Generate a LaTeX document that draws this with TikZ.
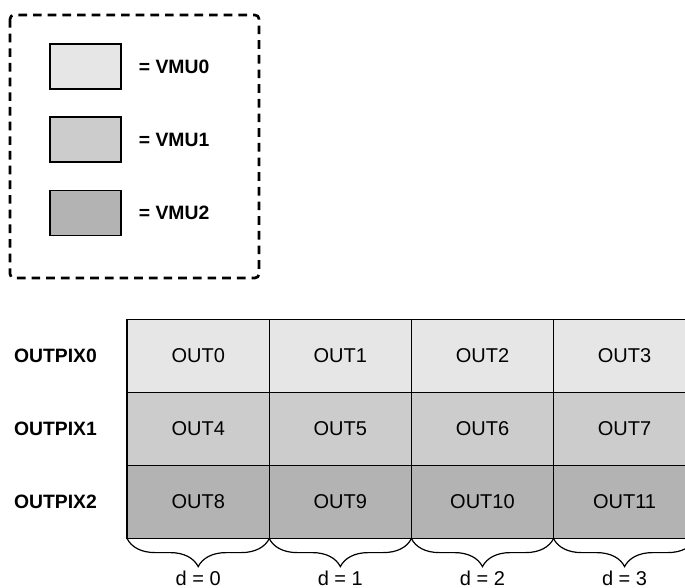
\documentclass[tikz,border=0pt]{standalone}
\usepackage{fontspec}
\setmainfont{Liberation Sans}
\usepackage{xcolor}
\usetikzlibrary{positioning,decorations.pathreplacing}
\definecolor{vmuA}{HTML}{E6E6E6}
\definecolor{vmuB}{HTML}{CCCCCC}
\definecolor{vmuC}{HTML}{B3B3B3}

\begin{document}
\begin{tikzpicture}[x=0.75pt, y=-0.75pt, node distance=0pt,
    cell/.style = {shape=rectangle, draw, line width=1pt, outer sep=0pt,
      inner sep=0pt, minimum width=106.6pt, minimum height=54.75pt,
      font=\fontsize{15}{18}\selectfont},
    swatch/.style = {shape=rectangle, draw, line width=1pt, inner sep=0pt,
      minimum width=53.25pt, minimum height=33.75pt},
    lbl/.style = {inner sep=0pt, font=\fontsize{14.5}{17}\selectfont\bfseries},
    dlabel/.style = {inner sep=0pt, anchor=base, font=\fontsize{15}{18}\selectfont},
    brc/.style = {decorate, line width=0.9pt,
      decoration={brace, mirror, amplitude=21pt}}]
    \useasboundingbox (0,0) rectangle (685,588);
    \clip (0,0) rectangle (685,588);
    % legend
    \draw[line width=2pt, dash pattern=on 6.5pt off 4.5pt, rounded corners=3pt]
        (10,15) rectangle (259,278);
    \node[swatch, fill=vmuA] (sw0) at (85.5,66.5) {};
    \node[swatch, fill=vmuB] (sw1) at (85.5,139.5) {};
    \node[swatch, fill=vmuC] (sw2) at (85.5,213) {};
    \node[lbl, right=12.75pt of sw0] (vmu0) {= VMU0};
    \node[lbl, right=12.75pt of sw1] (vmu1) {= VMU1};
    \node[lbl, right=12.75pt of sw2] (vmu2) {= VMU2};
    % output pixels
    \node[cell, fill=vmuA] (c0) at (198.2,356.1) {OUT0};
    \node[cell, fill=vmuA, right=of c0] (c1) {OUT1};
    \node[cell, fill=vmuA, right=of c1] (c2) {OUT2};
    \node[cell, fill=vmuA, right=of c2] (c3) {OUT3};
    \node[cell, fill=vmuB, below=of c0] (c4) {OUT4};
    \node[cell, fill=vmuB, right=of c4] (c5) {OUT5};
    \node[cell, fill=vmuB, right=of c5] (c6) {OUT6};
    \node[cell, fill=vmuB, right=of c6] (c7) {OUT7};
    \node[cell, fill=vmuC, below=of c4] (c8) {OUT8};
    \node[cell, fill=vmuC, right=of c8] (c9) {OUT9};
    \node[cell, fill=vmuC, right=of c9] (c10) {OUT10};
    \node[cell, fill=vmuC, right=of c10] (c11) {OUT11};
    \node[lbl, left=22.5pt of c0] (pix0) {OUTPIX0};
    \node[lbl, left=22.5pt of c4] (pix1) {OUTPIX1};
    \node[lbl, left=22.5pt of c8] (pix2) {OUTPIX2};
    % braces
    \draw[brc] (c8.south west) -- (c8.south east)
        node[dlabel, midway, yshift=-35pt] (d0) {d = 0};
    \draw[brc] (c9.south west) -- (c9.south east)
        node[dlabel, midway, yshift=-35pt] (d1) {d = 1};
    \draw[brc] (c10.south west) -- (c10.south east)
        node[dlabel, midway, yshift=-35pt] (d2) {d = 2};
    \draw[brc] (c11.south west) -- (c11.south east)
        node[dlabel, midway, yshift=-35pt] (d3) {d = 3};
\end{tikzpicture}
\end{document}
